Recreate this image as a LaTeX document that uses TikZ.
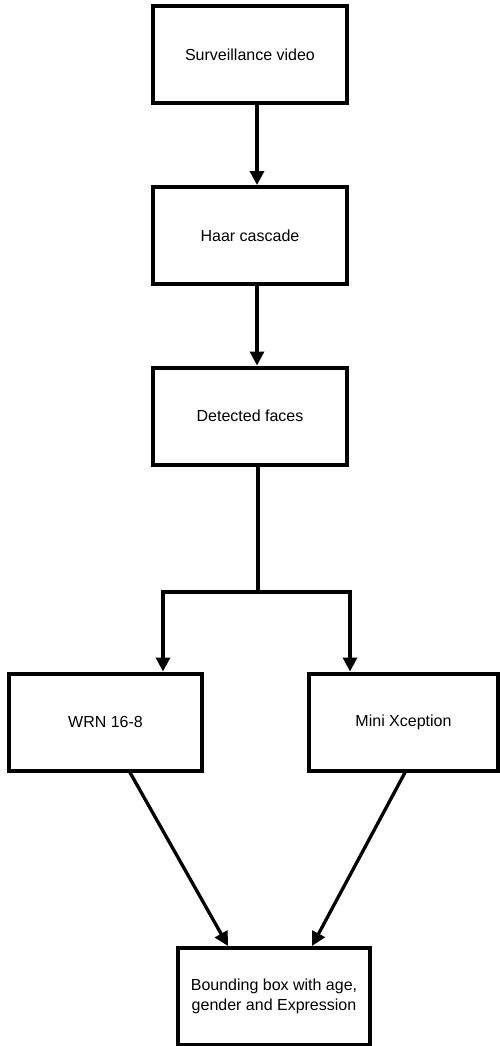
\documentclass[tikz,border=0pt]{standalone}
\usepackage{fontspec}
\setmainfont{Liberation Sans}
\usepackage{tikz}
\usetikzlibrary{positioning, arrows.meta}

\tikzset{
    block/.style={draw, line width=4pt, minimum width=#1, minimum height=97pt, align=center, inner sep=2pt},
    block/.default=194pt,
    flow/.style={line width=3.3pt, -{Triangle[length=14pt,width=14pt]}}
}

\begin{document}
\begin{tikzpicture}[x=1pt, y=1pt, font=\fontsize{16}{20}\selectfont]
    \useasboundingbox (0,0) rectangle (500,-1046);
    \node[block] (video) at (250,-54.5) {Surveillance video};
    \node[block] (haar) at (250,-235.5) {Haar cascade};
    \node[block] (faces) at (250,-416) {Detected faces};
    \node[block=193pt] (wrn) at (105.5,-722) {WRN 16-8};
    \node[block=189pt] (xcep) at (403.5,-722) {Mini Xception};
    \node[block=192pt] (result) at (274,-996.5) {Bounding box with age,\\gender and Expression};
    \coordinate (split) at (258,-592);

    \draw[flow] ([xshift=7pt]video.south) -- ([xshift=7pt]haar.north);
    \draw[flow] ([xshift=7pt]haar.south) -- ([xshift=7pt]faces.north);
    \draw[line width=3.3pt] ([xshift=8pt]faces.south) -- (split);
    \draw[flow, line cap=rect] (split) -| ([xshift=57.5pt]wrn.north);
    \draw[flow, line cap=rect] (split) -| ([xshift=-53.5pt]xcep.north);
    \draw[flow] ([xshift=24.5pt]wrn.south) -- ([xshift=-46pt]result.north);
    \draw[flow] ([xshift=1.5pt]xcep.south) -- ([xshift=38pt]result.north);
\end{tikzpicture}
\end{document}
